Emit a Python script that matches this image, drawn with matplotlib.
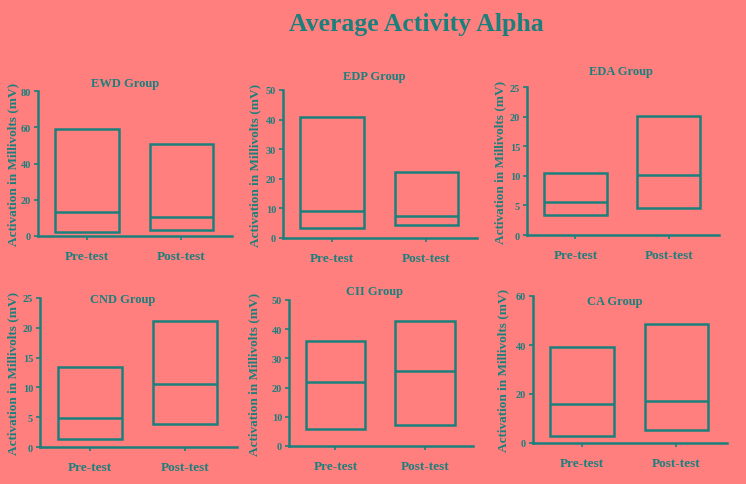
import matplotlib.pyplot as plt

# datos
groups = ["EWD Group", "EDP Group", "EDA Group", "CND Group", "CII Group", "CA Group"]
conditions = ["Pre-test", "Post-test"]
mins = [[2, 3.5], [3.5, 4.5], [3.3, 4.5], [1.3, 3.8], [5.8, 7.3], [3, 5.2]]
maxs = [[59, 50.5], [41, 22.3], [10.4, 20.1], [13.5, 21.2], [36, 42.8], [39, 48.5]]
medians = [[13, 10.5], [9.2, 7.5], [5.5, 10.2], [4.8, 10.6], [22, 25.8], [15.8, 17]]
ymax = [80, 50, 25, 25, 50, 60]
ystep = [20, 10, 5, 5, 10, 20]

W, H = 746, 485
bg = "#ff7f7f"
teal = "#1b7f7c"

# posiciones de los ejes en pixeles: izq, der, arriba, abajo
boxes = [(38, 232, 92, 237), (283, 477, 91, 239), (527, 719, 88, 236),
         (40, 237, 299, 448), (289, 473, 301, 447), (533, 727, 297, 444)]
title_pos = [(125, 84), (374, 77), (621, 72), (123, 300), (374, 292), (615, 302)]
# borde derecho de la etiqueta del eje y
ylabel_x = [19, 261, 506, 19, 260, 509]

plt.rcParams['font.family'] = ['Liberation Serif', 'DejaVu Serif']
plt.rcParams['font.weight'] = 'bold'

fig = plt.figure(figsize=(W / 100, H / 100), dpi=100)
fig.patch.set_facecolor(bg)

fig.text(416 / W, 1 - 25 / H, "Average Activity Alpha", color=teal,
         fontsize=18.5, fontweight='bold', ha='center', va='center')

for i in range(6):
    l, r, t, b = boxes[i]
    ax = fig.add_axes([l / W, 1 - b / H, (r - l) / W, (b - t) / H])
    ax.set_facecolor(bg)
    x = [0, 1]
    heights = [maxs[i][j] - mins[i][j] for j in range(2)]
    ax.bar(x, heights, bottom=mins[i], width=0.67, fill=False,
           edgecolor=teal, linewidth=1.8)
    ax.hlines(medians[i], [-0.335, 0.665], [0.335, 1.335], color=teal, linewidth=1.8)

    ax.set_xlim(-0.52, 1.54)
    ax.set_ylim(0, ymax[i])
    ax.set_yticks(range(0, ymax[i] + 1, ystep[i]))
    ax.set_xticks(x)
    ax.set_xticklabels(conditions, fontsize=9.5, fontweight='bold', color=teal)
    for lab in ax.get_yticklabels():
        lab.set_fontsize(7.5)
        lab.set_color(teal)
        lab.set_fontweight('bold')

    for s in ['top', 'right']:
        ax.spines[s].set_visible(False)
    for s in ['left', 'bottom']:
        ax.spines[s].set_color(teal)
        ax.spines[s].set_linewidth(1.8)
    ax.tick_params(axis='y', colors=teal, length=3, width=1.2, pad=2)
    ax.tick_params(axis='x', colors=teal, length=3, width=1.2, pad=7)

    ax.set_ylabel("Activation in Millivolts (mV)", fontsize=9.5,
                  fontweight='bold', color=teal)
    ax.yaxis.set_label_coords((ylabel_x[i] - l) / (r - l), 0.5)

    tx, ty = title_pos[i]
    fig.text(tx / W, 1 - ty / H, groups[i], color=teal, fontsize=9,
             fontweight='bold', ha='center', va='center')

fig.savefig("out.png", dpi=100, facecolor=bg)
